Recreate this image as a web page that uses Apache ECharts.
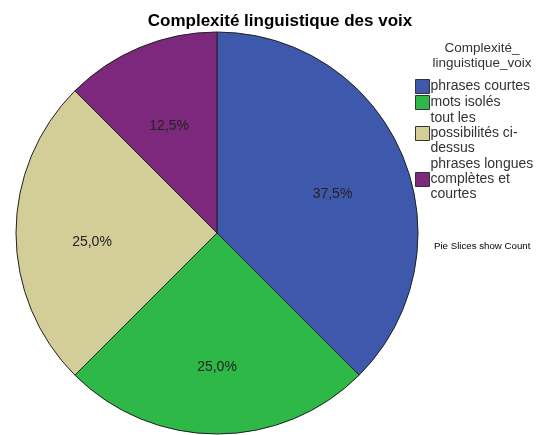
<!DOCTYPE html>
<html>
<head>
<meta charset="utf-8">
<script src="https://cdn.jsdelivr.net/npm/echarts@6/dist/echarts.min.js"></script>
<style>html,body{margin:0;padding:0;background:#fff;}#c{width:540px;height:435px;}</style>
</head>
<body>
<div id="c"></div>
<script>
var categories = ["phrases courtes", "mots isolés", "tout les possibilités ci-dessus", "phrases longues complètes et courtes"];
var legendLabels = ["phrases courtes", "mots isolés", "tout les\npossibilités ci-\ndessus", "phrases longues\ncomplètes et\ncourtes"];
var counts = [3, 2, 2, 1];
var colors = ["#3E58AC", "#2EB848", "#D3CE97", "#7C287D"];
var chartTitle = "Complexité linguistique des voix";
var legendTitle = "Complexité_\nlinguistique_voix";
var footNote = "Pie Slices show Count";

var data = categories.map(function (c, i) {
  return { name: c, value: counts[i], itemStyle: { color: colors[i] } };
});
var chart = echarts.init(document.getElementById('c'), null, { renderer: 'canvas' });
var fontFam = '"Liberation Sans", Arial, sans-serif';
chart.setOption({
  backgroundColor: '#ffffff',
  animation: false,
  title: [
    { text: chartTitle, left: 275, top: 8, textAlign: 'center',
      textStyle: { fontFamily: fontFam, fontSize: 17, fontWeight: 'bold', color: '#000' } },
    { text: legendTitle, left: 477, top: 36, textAlign: 'center',
      textStyle: { fontFamily: fontFam, fontSize: 13.5, fontWeight: 'normal', color: '#333', lineHeight: 15 } },
    { text: footNote, left: 429, top: 236,
      textStyle: { fontFamily: fontFam, fontSize: 9.7, fontWeight: 'normal', color: '#000' } }
  ],
  legend: {
    orient: 'vertical', left: 410, top: 74,
    itemWidth: 14, itemHeight: 14, itemGap: 1,
    icon: 'rect',
    selectedMode: false,
    data: categories,
    formatter: function (name) { return legendLabels[categories.indexOf(name)]; },
    itemStyle: { borderColor: '#333', borderWidth: 1 },
    textStyle: { fontFamily: fontFam, fontSize: 14, color: '#333', lineHeight: 15, padding: [0, 0, 0, -4] }
  },
  series: [
    {
      type: 'pie', center: [217, 233], radius: [0, 201],
      startAngle: 90, clockwise: true,
      data: data,
      label: { show: false }, labelLine: { show: false },
      itemStyle: { borderColor: '#222', borderWidth: 1 },
      emphasis: { disabled: true }
    },
    {
      type: 'pie', center: [217, 242], radius: [44, 200],
      startAngle: 90, clockwise: true, silent: true,
      data: categories.map(function (c, i) { return { name: c, value: counts[i] }; }),
      itemStyle: { color: 'rgba(0,0,0,0)' },
      legendHoverLink: false,
      label: {
        show: true, position: 'inside',
        fontFamily: fontFam, fontSize: 14, color: '#222',
        formatter: function (p) { return p.percent.toFixed(1).replace('.', ',') + '%'; }
      },
      labelLine: { show: false },
      emphasis: { disabled: true }
    }
  ]
});
</script>
</body>
</html>
